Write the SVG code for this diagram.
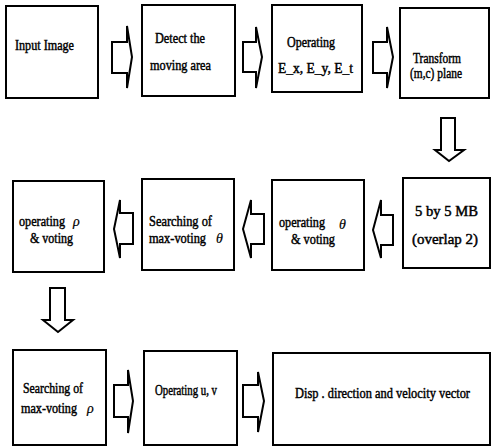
<svg xmlns="http://www.w3.org/2000/svg" width="492" height="447" viewBox="0 0 492 447">
<style>
.box{fill:#fff;stroke:#000;stroke-width:2}
.arr{fill:#fff;stroke:#000;stroke-width:2;stroke-linejoin:miter}
.t{font-family:'Liberation Serif','DejaVu Serif',serif;font-size:14px;fill:#000;stroke:#000;stroke-width:0.45}
.g{font-style:italic;stroke-width:0.2}
</style>
<rect width="492" height="447" fill="#fff"/>
<g id="connectors">
<path class="arr" d="M112,42 L127,42 L127,26 L132,57 L127,88 L127,73 L112,73 Z"/>
<path class="arr" d="M243,42 L256,42 L256,27 L262,57 L256,88 L256,72 L243,72 Z"/>
<path class="arr" d="M373,42 L387,42 L387,27 L393,57 L387,88 L387,73 L373,73 Z"/>
<path class="arr" d="M441,118 L455,118 L455,150 L464,150 L449,161 L435,150 L441,150 Z"/>
<path class="arr" d="M393,215 L381,215 L381,200 L373,230 L381,258 L381,245 L393,245 Z"/>
<path class="arr" d="M264,214 L251,214 L251,200 L243,229 L251,258 L251,244 L264,244 Z"/>
<path class="arr" d="M133,213 L120,213 L120,200 L114,229 L120,258 L120,244 L133,244 Z"/>
<path class="arr" d="M50,288 L65,288 L65,320 L73,320 L58,332 L43,320 L50,320 Z"/>
<path class="arr" d="M114,385 L128,385 L128,370 L133,401 L128,433 L128,417 L114,417 Z"/>
<path class="arr" d="M243,385 L258,385 L258,372 L264,401 L258,432 L258,417 L243,417 Z"/>
</g>
<g id="n1"><rect class="box" x="6" y="6" width="92" height="92"/>
<text class="t" x="15" y="50" textLength="59" lengthAdjust="spacingAndGlyphs">Input Image</text></g>
<g id="n2"><rect class="box" x="142" y="5" width="93" height="91"/>
<text class="t" x="155" y="43" textLength="50" lengthAdjust="spacingAndGlyphs">Detect the</text>
<text class="t" x="150" y="70" textLength="61" lengthAdjust="spacingAndGlyphs">moving area</text></g>
<g id="n3"><rect class="box" x="272" y="5" width="90" height="87"/>
<text class="t" x="287" y="47" textLength="48" lengthAdjust="spacingAndGlyphs">Operating</text>
<text class="t" x="278" y="73" textLength="75" lengthAdjust="spacingAndGlyphs">E_x, E_y, E_t</text></g>
<g id="n4"><rect class="box" x="400" y="8" width="89" height="90"/>
<text class="t" x="413" y="63" textLength="48" lengthAdjust="spacingAndGlyphs">Transform</text>
<text class="t" x="410" y="78" textLength="52" lengthAdjust="spacingAndGlyphs">(m,c) plane</text></g>
<g id="n5"><rect class="box" x="403" y="178" width="87" height="90"/>
<text class="t" x="415" y="216" textLength="63" lengthAdjust="spacingAndGlyphs">5 by 5 MB</text>
<text class="t" x="412" y="244" textLength="66" lengthAdjust="spacingAndGlyphs">(overlap  2)</text></g>
<g id="n6"><rect class="box" x="272" y="180" width="92" height="90"/>
<text class="t" x="279" y="227"><tspan textLength="46" lengthAdjust="spacingAndGlyphs">operating</tspan><tspan class="g" x="339" y="229">θ</tspan></text>
<text class="t" x="291" y="244" textLength="44" lengthAdjust="spacingAndGlyphs">&amp; voting</text></g>
<g id="n7"><rect class="box" x="142" y="179" width="92" height="91"/>
<text class="t" x="149" y="226" textLength="63" lengthAdjust="spacingAndGlyphs">Searching of</text>
<text class="t" x="149" y="243"><tspan textLength="57" lengthAdjust="spacingAndGlyphs">max-voting</tspan><tspan class="g" x="216">θ</tspan></text></g>
<g id="n8"><rect class="box" x="13" y="181" width="91" height="91"/>
<text class="t" x="19" y="226"><tspan textLength="46" lengthAdjust="spacingAndGlyphs">operating</tspan><tspan class="g" x="73">ρ</tspan></text>
<text class="t" x="30" y="243" textLength="43" lengthAdjust="spacingAndGlyphs">&amp; voting</text></g>
<g id="n9"><rect class="box" x="13" y="350" width="93" height="95"/>
<text class="t" x="23" y="393" textLength="60" lengthAdjust="spacingAndGlyphs">Searching of</text>
<text class="t" x="21" y="413"><tspan textLength="56" lengthAdjust="spacingAndGlyphs">max-voting</tspan><tspan class="g" x="87">ρ</tspan></text></g>
<g id="n10"><rect class="box" x="144" y="351" width="93" height="94"/>
<text class="t" x="155" y="395" textLength="62" lengthAdjust="spacingAndGlyphs">Operating u, v</text></g>
<g id="n11"><rect class="box" x="273" y="353" width="217" height="92"/>
<text class="t" x="295" y="398" textLength="175" lengthAdjust="spacingAndGlyphs">Disp . direction and velocity vector</text></g>
</svg>
